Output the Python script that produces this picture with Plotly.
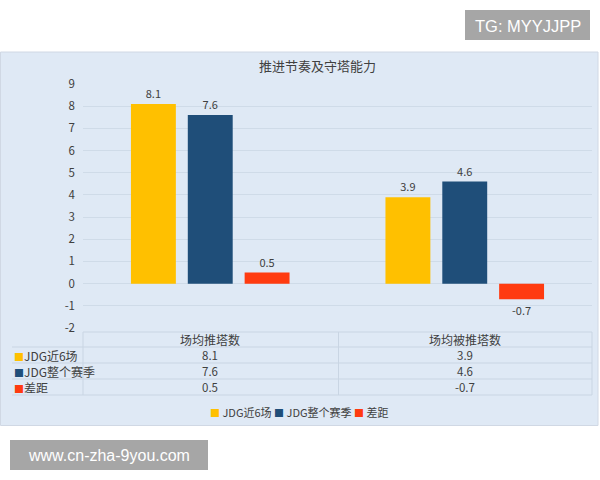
import plotly.graph_objects as go

categories = ["场均推塔数", "场均被推塔数"]
series_names = ["JDG近6场", "JDG整个赛季", "差距"]
recent6 = [8.1, 3.9]
season = [7.6, 4.6]
diff = [0.5, -0.7]
series_values = [recent6, season, diff]
series_colors = ["#FFC000", "#1F4E79", "#FF3B10"]
y_ticks = [-2, -1, 0, 1, 2, 3, 4, 5, 6, 7, 8, 9]
y_tick_labels = ["-2", "-1", "0", "1", "2", "3", "4", "5", "6", "7", "8", "9"]
title_text = "推进节奏及守塔能力"

W, H = 600, 480
ML, MR, MT, MB = 83, 8, 84, 152
PW = W - ML - MR
PH = H - MT - MB


def px(x):
    return (x - ML) / PW


def py(y):
    return (H - MB - y) / PH


CJK = "Noto Sans CJK SC, Noto Sans, sans-serif"
TXT = "#404040"
BG = "#DFE9F5"
LINE = "#C9D5E3"

fig = go.Figure()
for name, vals, col in zip(series_names, series_values, series_colors):
    fig.add_trace(go.Bar(
        x=categories, y=vals, name=name,
        marker=dict(color=col, line=dict(width=0)),
        text=[str(v) for v in vals], textposition="outside",
        textfont=dict(size=11, color=TXT, family=CJK),
        cliponaxis=False, showlegend=False, hoverinfo="skip",
    ))

shapes = []
annotations = []

# chart background panel
shapes.append(dict(type="rect", xref="paper", yref="paper", layer="below",
                   x0=px(0.5), x1=px(598), y0=py(52), y1=py(425.5),
                   fillcolor=BG, line=dict(color="#D0D8E4", width=1)))

# table lines
tbl_top, tbl_rows = 332, [347, 363, 379, 395]
col_x = [83, 338.5, 592]
shapes.append(dict(type="line", xref="paper", yref="paper",
                   x0=px(83), x1=px(592), y0=py(tbl_top), y1=py(tbl_top),
                   line=dict(color=LINE, width=1)))
for ry in tbl_rows:
    shapes.append(dict(type="line", xref="paper", yref="paper",
                       x0=px(12), x1=px(592), y0=py(ry), y1=py(ry),
                       line=dict(color=LINE, width=1)))
for cx in col_x:
    shapes.append(dict(type="line", xref="paper", yref="paper",
                       x0=px(cx), x1=px(cx), y0=py(tbl_top), y1=py(395),
                       line=dict(color=LINE, width=1)))

# table header
for cat in categories:
    annotations.append(dict(xref="x", yref="paper", x=cat, y=py(339.5),
                            xanchor="center", yanchor="middle",
                            text=cat, showarrow=False,
                            font=dict(size=12, color=TXT, family=CJK)))
# table rows
row_centers = [355, 371, 387]
for name, vals, col, rc in zip(series_names, series_values, series_colors, row_centers):
    annotations.append(dict(xref="paper", yref="paper", x=px(12), y=py(rc),
                            xanchor="left", yanchor="middle",
                            text=f"<span style='color:{col}; font-size:10px'>■</span>{name}",
                            showarrow=False,
                            font=dict(size=12, color=TXT, family=CJK)))
    for cat, v in zip(categories, vals):
        annotations.append(dict(xref="x", yref="paper", x=cat, y=py(rc),
                                xanchor="center", yanchor="middle",
                                text=str(v), showarrow=False,
                                font=dict(size=11.5, color=TXT, family=CJK)))

# legend (built from the series names and colours)
legend_text = " ".join(
    f"<span style='color:{c}; font-size:10px'>■</span> {n}" for n, c in zip(series_names, series_colors)
)
annotations.append(dict(xref="paper", yref="paper", x=px(299), y=py(412),
                        xanchor="center", yanchor="middle",
                        text=legend_text, showarrow=False,
                        font=dict(size=11, color=TXT, family=CJK)))

# title
annotations.append(dict(xref="paper", yref="paper", x=px(317), y=py(65),
                        xanchor="center", yanchor="middle",
                        text=title_text, showarrow=False,
                        font=dict(size=13, color=TXT, family=CJK)))

# watermark boxes
shapes.append(dict(type="rect", xref="paper", yref="paper",
                   x0=px(465), x1=px(590), y0=py(10), y1=py(40),
                   fillcolor="#A6A6A6", line=dict(width=0)))
annotations.append(dict(xref="paper", yref="paper", x=px(527.5), y=py(25.5),
                        xanchor="center", yanchor="middle",
                        text="TG: MYYJJPP", showarrow=False,
                        font=dict(size=16.5, color="white", family="Liberation Sans, Arial")))
shapes.append(dict(type="rect", xref="paper", yref="paper",
                   x0=px(10), x1=px(208), y0=py(440), y1=py(470),
                   fillcolor="#A6A6A6", line=dict(width=0)))
annotations.append(dict(xref="paper", yref="paper", x=px(109), y=py(455.5),
                        xanchor="center", yanchor="middle",
                        text="www.cn-zha-9you.com", showarrow=False,
                        font=dict(size=16, color="white", family="Liberation Sans, Arial")))

fig.update_layout(
    width=W, height=H,
    margin=dict(l=ML, r=MR, t=MT, b=MB, pad=0),
    paper_bgcolor="white", plot_bgcolor="rgba(0,0,0,0)",
    barmode="group", bargap=0.33, bargroupgap=0.21,
    showlegend=False,
    xaxis=dict(showticklabels=False, showgrid=False, zeroline=False, showline=False,
               ticks=""),
    yaxis=dict(range=[-2, 9], tickvals=y_ticks, ticktext=y_tick_labels,
               showgrid=True, gridcolor="#CFDBE8", gridwidth=1, zeroline=False,
               showline=False, ticks="", ticklabelstandoff=7,
               tickfont=dict(size=11.5, color=TXT, family=CJK)),
    shapes=shapes, annotations=annotations,
)

fig.write_html("out.html", config={"displayModeBar": False},
               post_script="document.body.style.margin='0';document.body.style.padding='0';")
